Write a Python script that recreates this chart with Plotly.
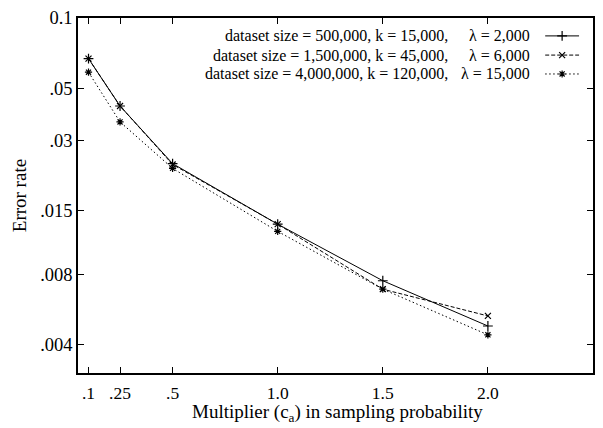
import plotly.graph_objects as go

# ---- data ----
multiplier = [0.1, 0.25, 0.5, 1.0, 1.5, 2.0]
err_500k = [0.067, 0.042, 0.0238, 0.0131, 0.0075, 0.0048]
err_1500k = [0.067, 0.042, 0.0236, 0.0131, 0.0069, 0.0053]
err_4000k = [0.0586, 0.0359, 0.0227, 0.0122, 0.0069, 0.0044]

x_tickvals = [0.1, 0.25, 0.5, 1.0, 1.5, 2.0]
x_ticktext = [".1", ".25", ".5", "1.0", "1.5", "2.0"]
y_tickvals = [0.1, 0.05, 0.03, 0.015, 0.008, 0.004]
y_ticktext = ["0.1", ".05", ".03", ".015", ".008", ".004"]

legend_left = ["dataset size = 500,000, k = 15,000,",
               "dataset size = 1,500,000, k = 45,000,",
               "dataset size = 4,000,000, k = 120,000,"]
legend_right = ["\u03bb = 2,000", "\u03bb = 6,000", "\u03bb = 15,000"]

# ---- layout constants (pixels) ----
W, H = 603, 428
L, R, T, B = 78, 595, 16, 373
FONT = "Liberation Serif, Times New Roman, serif"

def px(x):
    return (x - L) / (R - L)

def py(y):
    return (B - y) / (B - T)

styles = [
    dict(dash="solid", symbol="cross-thin-open", size=7),
    dict(dash="4px,2px", symbol="x-thin-open", size=6),
    dict(dash="1.5px,2.5px", symbol="asterisk-open", size=6),
]
series = [err_500k, err_1500k, err_4000k]

fig = go.Figure()
for ys, st, name in zip(series, styles, legend_left):
    fig.add_trace(go.Scatter(
        x=multiplier, y=ys, mode="lines+markers", name=name, showlegend=False,
        line=dict(color="black", width=1, dash=st["dash"]),
        marker=dict(symbol=st["symbol"], size=st["size"], color="black",
                    line=dict(color="black", width=1.2)),
    ))

# custom legend (symbol on the right, gnuplot style)
leg_rows = [34, 53.3, 72.3]
for st, yrow in zip(styles, leg_rows):
    fig.add_trace(go.Scatter(
        x=[547, 564, 581], y=[yrow, yrow, yrow], xaxis="x2", yaxis="y2",
        mode="lines", showlegend=False, hoverinfo="skip",
        line=dict(color="black", width=1, dash=st["dash"]),
    ))
    fig.add_trace(go.Scatter(
        x=[564], y=[yrow], xaxis="x2", yaxis="y2",
        mode="markers", showlegend=False, hoverinfo="skip",
        marker=dict(symbol=st["symbol"], size=st["size"], color="black",
                    line=dict(color="black", width=1.2)),
    ))

annotations = []
for t1, t2, yrow in zip(legend_left, legend_right, leg_rows):
    annotations.append(dict(x=px(451), y=py(yrow), xref="paper", yref="paper",
                            text=t1, showarrow=False, xanchor="right", yanchor="middle",
                            font=dict(family=FONT, size=16, color="black")))
    annotations.append(dict(x=px(534), y=py(yrow), xref="paper", yref="paper",
                            text=t2, showarrow=False, xanchor="right", yanchor="middle",
                            font=dict(family=FONT, size=16, color="black")))

# axis titles
annotations.append(dict(x=px(339), y=py(413), xref="paper", yref="paper",
                        text="Multiplier (c<sub>a</sub>) in sampling probability",
                        showarrow=False, xanchor="center", yanchor="middle",
                        font=dict(family=FONT, size=19, color="black")))
annotations.append(dict(x=px(20), y=py(195), xref="paper", yref="paper",
                        text="Error rate", textangle=-90,
                        showarrow=False, xanchor="center", yanchor="middle",
                        font=dict(family=FONT, size=19, color="black")))

axis_common = dict(showline=True, linecolor="black", linewidth=1.5, mirror="ticks",
                   ticks="inside", ticklen=6, tickwidth=1, tickcolor="black",
                   showgrid=False, zeroline=False)

fig.update_layout(
    width=W, height=H,
    margin=dict(l=L, r=W - R, t=T, b=H - B, pad=0),
    paper_bgcolor="white", plot_bgcolor="white",
    xaxis=dict(range=[0.05, 2.5], tickvals=x_tickvals, ticktext=x_ticktext,
               ticklabelstandoff=3,
               tickfont=dict(family=FONT, size=17.5, color="black"), **axis_common),
    yaxis=dict(type="log", range=[-2.52, -1], tickvals=y_tickvals, ticktext=y_ticktext,
               tickfont=dict(family=FONT, size=18.5, color="black"), **axis_common),
    xaxis2=dict(range=[L, R], overlaying="x", visible=False, anchor="y2"),
    yaxis2=dict(range=[B, T], overlaying="y", visible=False, anchor="x2"),
    annotations=annotations,
    showlegend=False,
)

fig.write_html("out.html", config={"displayModeBar": False},
               post_script="document.body.style.margin='0';")
